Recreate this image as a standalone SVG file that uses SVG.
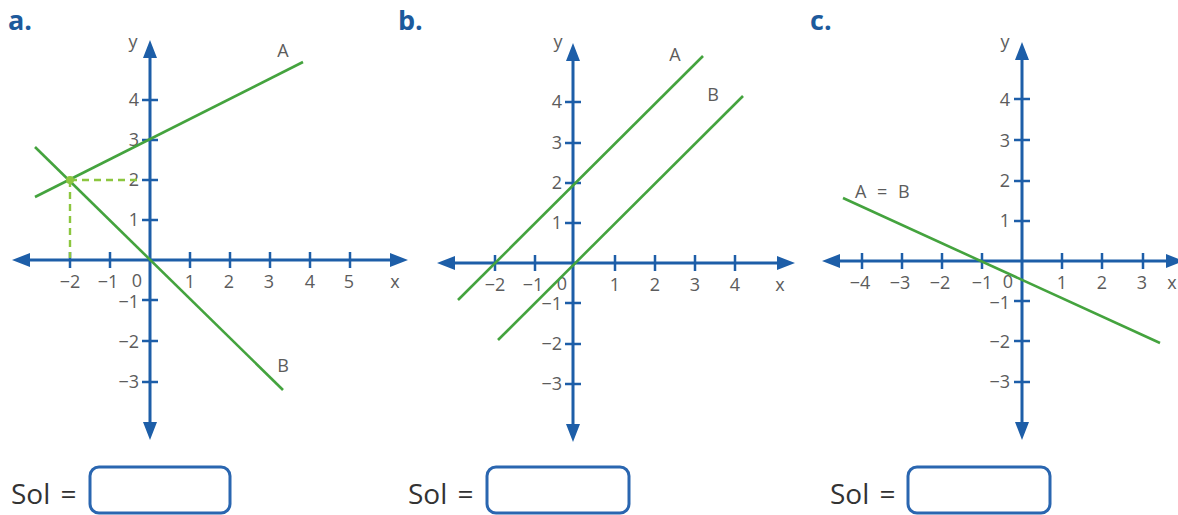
<svg xmlns="http://www.w3.org/2000/svg" width="1178" height="515" viewBox="0 0 1178 515">
<style>
.ax{stroke:#1d5ea8;stroke-width:3;fill:none}
.tk{stroke:#1d5ea8;stroke-width:2.5;fill:none}
.hd{fill:#1d5ea8}
.ln{stroke:#44a33e;stroke-width:2.6;fill:none}
.ds{stroke:#8cc63f;stroke-width:2.4;stroke-dasharray:7,5;fill:none}
.num{font-family:"Open Sans","Liberation Sans",sans-serif;font-size:18px;fill:#5c5c5c}
.nr{text-anchor:end}
.nc{text-anchor:middle}
.ttl{font-family:"Open Sans","Liberation Sans",sans-serif;font-size:27px;font-weight:bold;fill:#1d5a9c}
.sol{font-family:"Open Sans","Liberation Sans",sans-serif;font-size:28px;fill:#333;word-spacing:3px}
.box{fill:#fff;stroke:#2a66b0;stroke-width:3}
</style>
<rect width="1178" height="515" fill="#fff"/>

<g id="panel-a">
<text class="ttl" x="8" y="30">a.</text>
<g transform="translate(150,260)">
<path class="ax" d="M-122,0H240M0,-202V162"/>
<path class="hd" d="M-138,0L-120,-7V7Z M258,0L240,-7V7Z M0,-220L-7,-202H7Z M0,180L-7,162H7Z"/>
<path class="tk" d="M-80,-8V8M-40,-8V8M40,-8V8M80,-8V8M120,-8V8M160,-8V8M200,-8V8M-8,-160H8M-8,-120H8M-8,-80H8M-8,-40H8M-8,40H8M-8,81H8M-8,122H8"/>
<g class="num nc">
<text x="-80" y="28">−2</text><text x="-42" y="28">−1</text><text x="-13" y="27">0</text>
<text x="40" y="28">1</text><text x="79" y="28">2</text><text x="119" y="28">3</text><text x="160" y="28">4</text><text x="199" y="28">5</text>
<text x="245" y="28">x</text><text x="-17" y="-212">y</text>
</g>
<g class="num nr">
<text x="-11" y="-154">4</text><text x="-11" y="-114">3</text><text x="-11" y="-74">2</text><text x="-11" y="-34">1</text>
<text x="-11" y="48">−1</text><text x="-11" y="88">−2</text><text x="-11" y="128">−3</text>
</g>
</g>
</g>

<g id="panel-b">
<text class="ttl" x="398" y="30">b.</text>
<g transform="translate(573,263)">
<path class="ax" d="M-120,0H204M0,-202V161"/>
<path class="hd" d="M-136,0L-118,-7V7Z M222,0L204,-7V7Z M0,-220L-7,-202H7Z M0,179L-7,161H7Z"/>
<path class="tk" d="M-78,-8V8M-38,-8V8M42,-8V8M82,-8V8M122,-8V8M162,-8V8M-8,-161H8M-8,-120H8M-8,-80H8M-8,-40H8M-8,40H8M-8,81H8M-8,121H8"/>
<g class="num nc">
<text x="-78" y="28">−2</text><text x="-40" y="28">−1</text><text x="-11" y="27">0</text>
<text x="42" y="28">1</text><text x="82" y="28">2</text><text x="122" y="28">3</text><text x="162" y="28">4</text>
<text x="207" y="28">x</text><text x="-15" y="-215">y</text>
</g>
<g class="num nr">
<text x="-11" y="-155">4</text><text x="-11" y="-114">3</text><text x="-11" y="-74">2</text><text x="-11" y="-34">1</text>
<text x="-11" y="47">−1</text><text x="-11" y="87">−2</text><text x="-11" y="127">−3</text>
</g>
</g>
</g>

<g id="panel-c">
<text class="ttl" x="810" y="30">c.</text>
<g transform="translate(1022,261)">
<path class="ax" d="M-184,0H148M0,-201V161"/>
<path class="hd" d="M-200,0L-182,-7V7Z M162,0L144,-7V7Z M0,-219L-7,-201H7Z M0,179L-7,161H7Z"/>
<path class="tk" d="M-160,-8V8M-120,-8V8M-80,-8V8M-40,-8V8M40,-8V8M80,-8V8M121,-8V8M-8,-162H8M-8,-121H8M-8,-80H8M-8,-40H8M-8,40H8M-8,80H8M-8,121H8"/>
<g class="num nc">
<text x="-162" y="28">−4</text><text x="-122" y="28">−3</text><text x="-82" y="28">−2</text><text x="-40" y="28">−1</text><text x="-14" y="27">0</text>
<text x="40" y="28">1</text><text x="80" y="28">2</text><text x="120" y="28">3</text>
<text x="150" y="28">x</text><text x="-17" y="-213">y</text>
</g>
<g class="num nr">
<text x="-12" y="-155">4</text><text x="-12" y="-114">3</text><text x="-12" y="-74">2</text><text x="-12" y="-34">1</text>
<text x="-12" y="48">−1</text><text x="-12" y="87">−2</text><text x="-12" y="127">−3</text>
</g>
</g>
</g>

<g id="connectors">
<line class="ds" x1="70" y1="180" x2="137" y2="180"/>
<line class="ds" x1="70" y1="180" x2="70" y2="258"/>
<line class="ln" x1="35" y1="197" x2="303" y2="62"/>
<line class="ln" x1="35" y1="147" x2="283" y2="390"/>
<circle cx="70" cy="180" r="4" fill="#8cc63f"/>
<line class="ln" x1="458" y1="300" x2="703" y2="56"/>
<line class="ln" x1="498" y1="340" x2="743" y2="96"/>
<line class="ln" x1="843" y1="198" x2="1160" y2="343"/>
</g>

<g id="line-labels" class="num">
<text x="283" y="57" text-anchor="middle">A</text>
<text x="283" y="372" text-anchor="middle">B</text>
<text x="675" y="61" text-anchor="middle">A</text>
<text x="713" y="101" text-anchor="middle">B</text>
<text x="855" y="198" word-spacing="6">A = B</text>
</g>

<g id="sol-a">
<text class="sol" x="11" y="504">Sol =</text>
<rect class="box" x="90" y="467" width="140" height="46" rx="9"/>
</g>
<g id="sol-b">
<text class="sol" x="408" y="504">Sol =</text>
<rect class="box" x="487" y="467" width="142" height="46" rx="9"/>
</g>
<g id="sol-c">
<text class="sol" x="830" y="504">Sol =</text>
<rect class="box" x="908" y="467" width="142" height="46" rx="9"/>
</g>
</svg>
